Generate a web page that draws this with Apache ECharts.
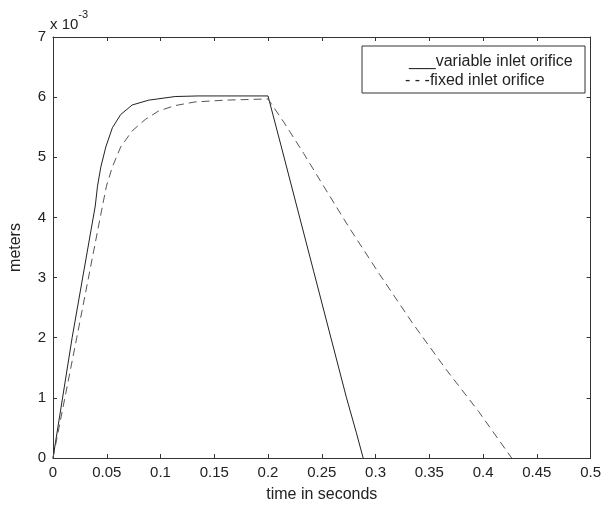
<!DOCTYPE html>
<html>
<head>
<meta charset="utf-8">
<script src="https://cdn.jsdelivr.net/npm/echarts@6/dist/echarts.min.js"></script>
<style>
  html, body { margin: 0; padding: 0; background: #fff; }
  #chart { width: 604px; height: 508px; }
</style>
</head>
<body>
<div id="chart"></div>
<script>
// time (s), height (x 10^-3 m)
const variableT = [0, 0.0178, 0.0393, 0.0414, 0.0445, 0.0491, 0.0552, 0.0629, 0.0737, 0.089, 0.1136, 0.135, 0.2,
  0.2005, 0.212, 0.2425, 0.273, 0.282, 0.2885];
const variableV = [0, 2.0, 4.19, 4.52, 4.84, 5.17, 5.49, 5.71, 5.87, 5.95, 6.01, 6.02, 6.02,
  6.02, 5.2, 3.1, 1.0, 0.43, 0];

const fixedT = [0, 0.0221, 0.046, 0.0497, 0.0552, 0.0629, 0.0737, 0.0859, 0.0982, 0.1136, 0.132, 0.16, 0.2,
  0.2148, 0.2333, 0.2517, 0.2762, 0.3039, 0.3345, 0.3653, 0.396, 0.4266];
const fixedV = [0, 2.0, 4.19, 4.52, 4.84, 5.17, 5.44, 5.63, 5.77, 5.86, 5.92, 5.95, 5.97,
  5.58, 5.06, 4.52, 3.81, 3.05, 2.24, 1.48, 0.77, 0];

const xTicks = { min: 0, max: 0.5, interval: 0.05 };
const yTicks = { min: 0, max: 7, interval: 1 };

const zip = (a, b) => a.map((t, i) => [t, b[i]]);

const ink = "#333";
const font = "Liberation Sans, Arial, sans-serif";

const chart = echarts.init(document.getElementById("chart"));

// box axes, MATLAB style: ticks inward on all four sides
const axisCommon = (labels) => ({
  type: "value",
  splitLine: { show: false },
  axisLine: { show: true, onZero: false, lineStyle: { color: ink, width: 1 } },
  axisTick: { show: true, inside: true, length: 4, lineStyle: { color: ink } },
  axisLabel: { show: labels, color: "#222", fontSize: 15, fontFamily: font, margin: 7 },
});

const option = {
  animation: false,
  backgroundColor: "#fff",
  grid: { left: 50, top: 37, width: 543, height: 431 },
  xAxis: [
    Object.assign(axisCommon(true), xTicks, {
      position: "bottom",
      name: "time in seconds",
      nameLocation: "middle",
      nameGap: 29,
      nameTextStyle: { color: "#222", fontSize: 16, fontFamily: font },
    }),
    Object.assign(axisCommon(false), xTicks, { position: "top" }),
  ],
  yAxis: [
    Object.assign(axisCommon(true), yTicks, {
      position: "left",
      name: "meters",
      nameLocation: "middle",
      nameGap: 29,
      nameTextStyle: { color: "#222", fontSize: 16, fontFamily: font },
    }),
    Object.assign(axisCommon(false), yTicks, { position: "right" }),
  ],
  series: [
    {
      name: "variable inlet orifice",
      type: "line",
      showSymbol: false,
      data: zip(variableT, variableV),
      lineStyle: { color: "#222", width: 1 },
    },
    {
      name: "fixed inlet orifice",
      type: "line",
      showSymbol: false,
      data: zip(fixedT, fixedV),
      lineStyle: { color: "#555", width: 1, type: [8, 5] },
    },
  ],
  graphic: [
    {
      type: "text",
      left: 50,
      top: 9,
      style: {
        text: "{a|x 10}{b|-3}",
        rich: {
          a: { fontSize: 15, fontFamily: font, fill: "#222", padding: [8, 0, 0, 0] },
          b: { fontSize: 11, fontFamily: font, fill: "#222", verticalAlign: "top" },
        },
      },
    },
    {
      type: "rect",
      shape: { x: 362, y: 46, width: 223, height: 47 },
      style: { fill: "#fff", stroke: ink, lineWidth: 1 },
      z: 10,
    },
    {
      type: "text",
      x: 409,
      y: 62,
      style: { text: "___variable inlet orifice", fontSize: 16, fontFamily: font, fill: "#222", verticalAlign: "middle" },
      z: 11,
    },
    {
      type: "text",
      x: 405,
      y: 81,
      style: { text: "- - -fixed inlet orifice", fontSize: 16, fontFamily: font, fill: "#222", verticalAlign: "middle" },
      z: 11,
    },
  ],
};

chart.setOption(option);
</script>
</body>
</html>
